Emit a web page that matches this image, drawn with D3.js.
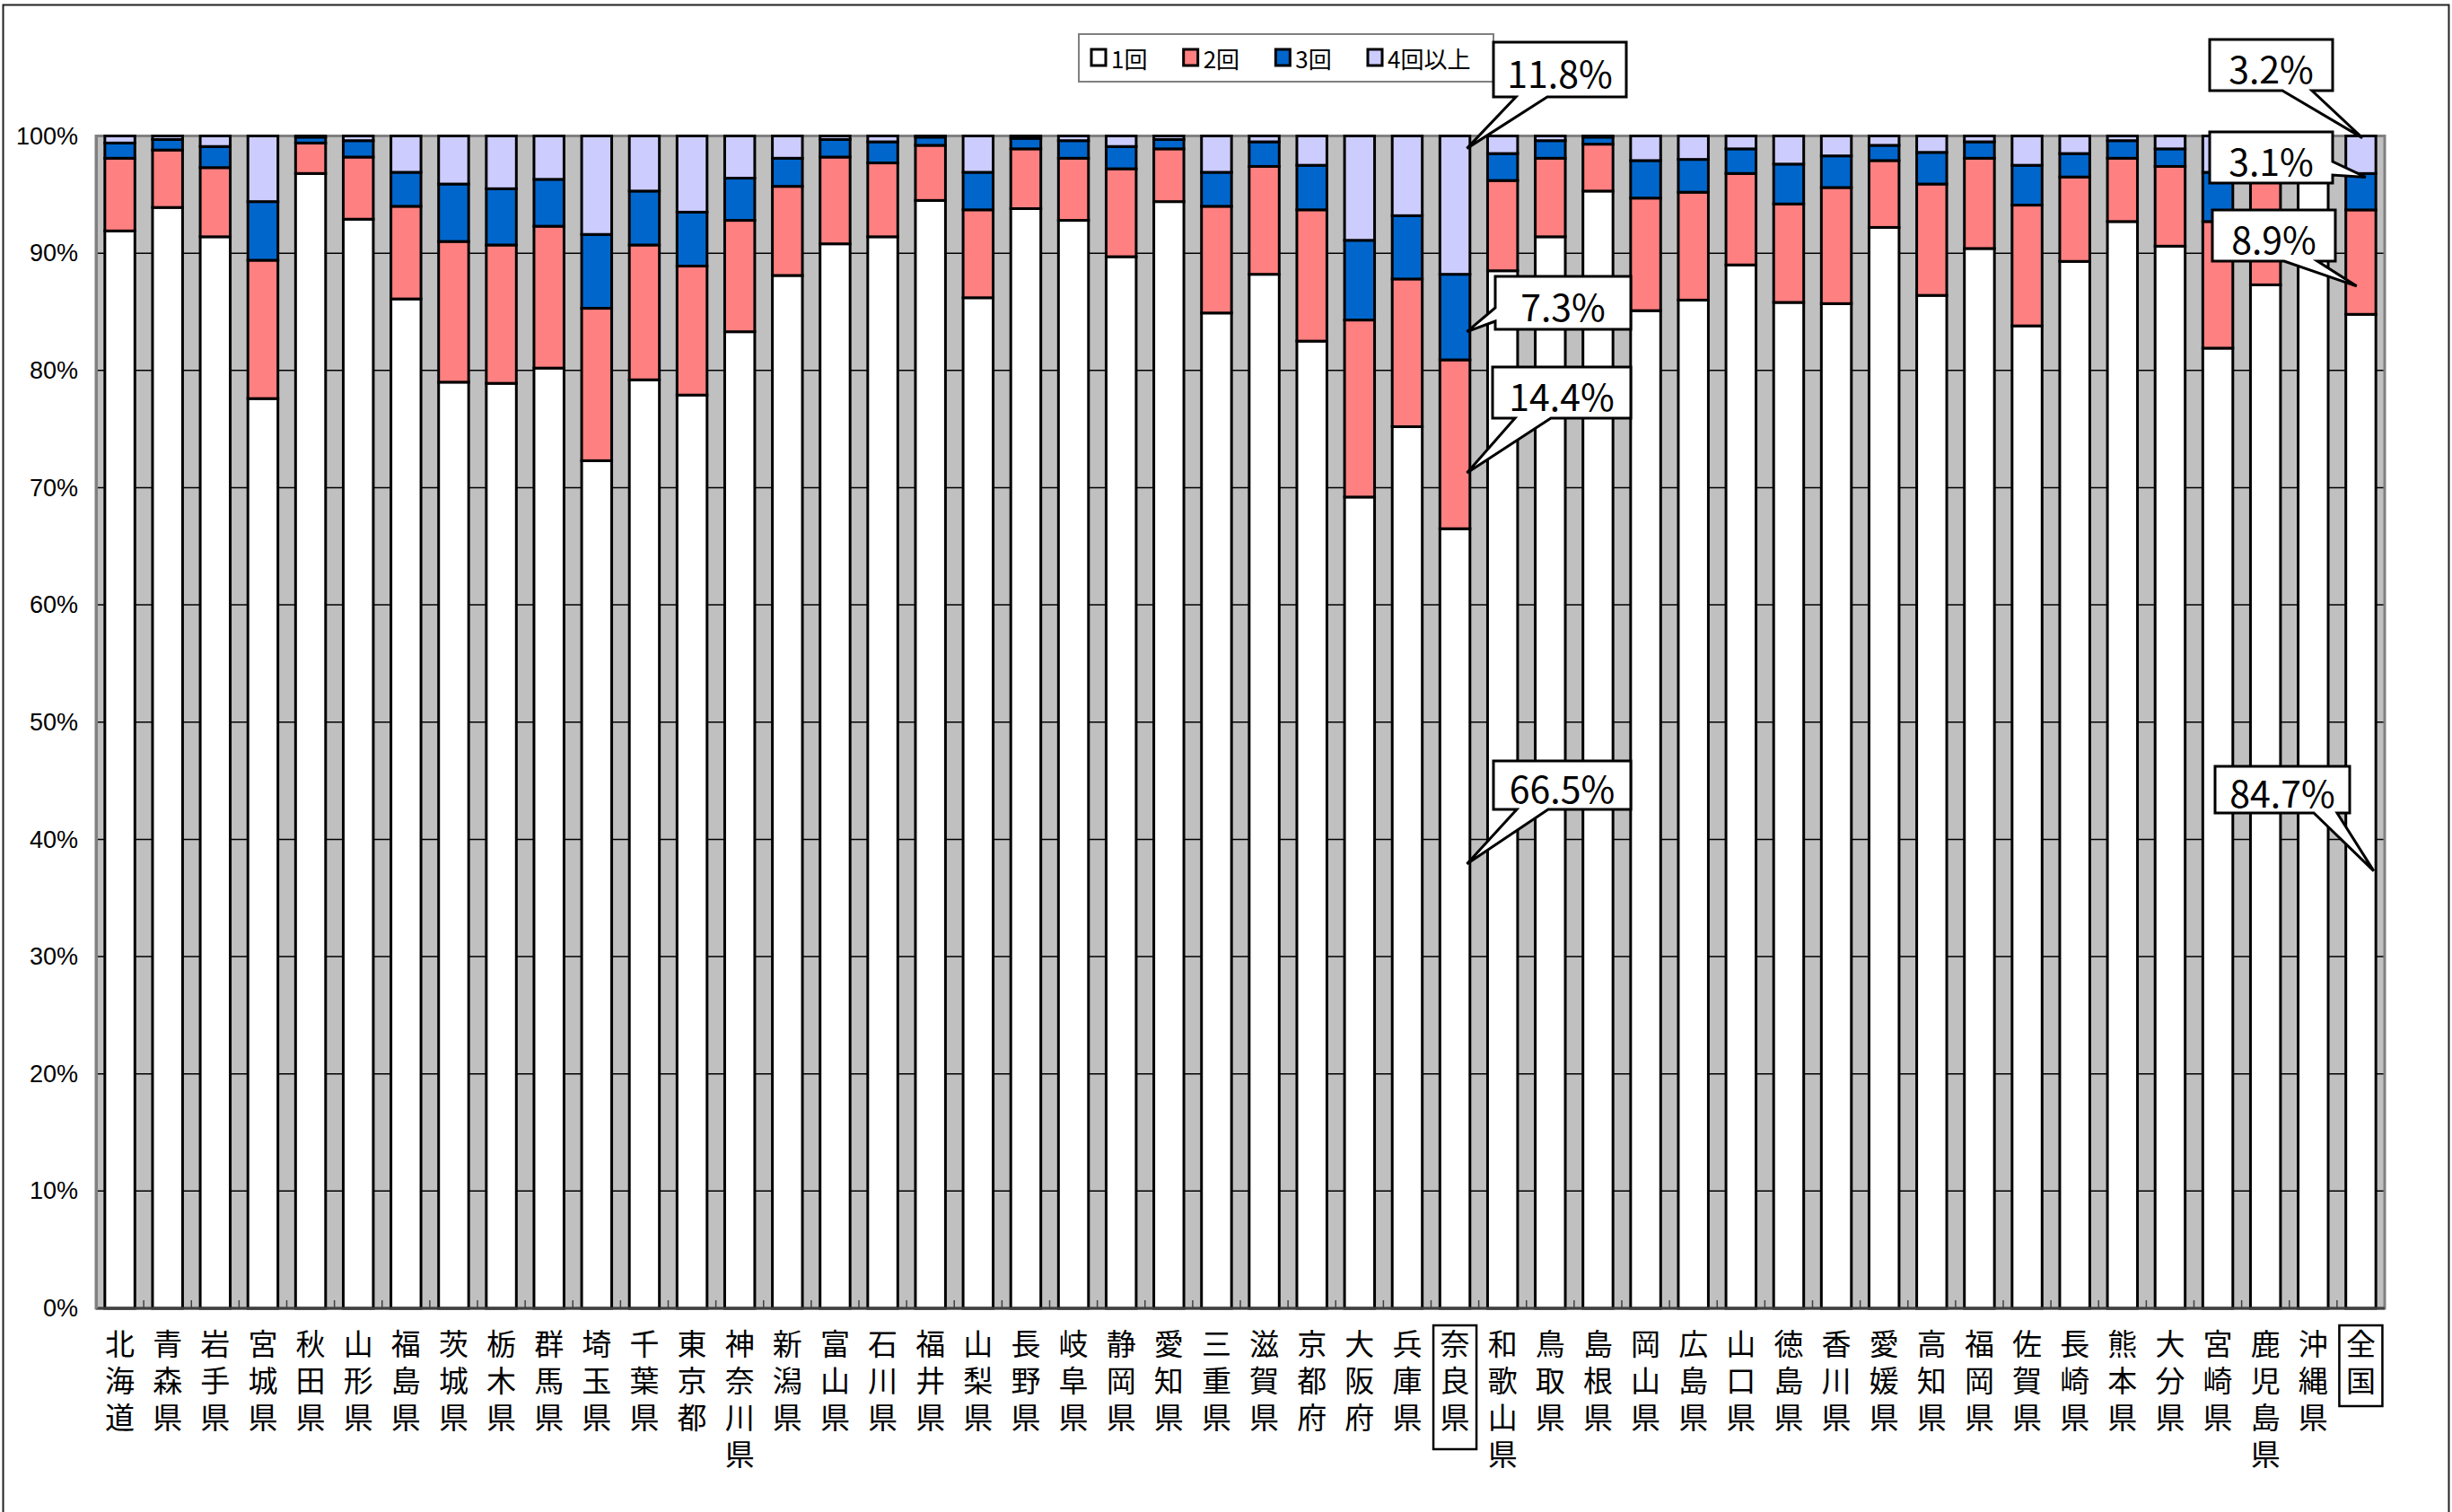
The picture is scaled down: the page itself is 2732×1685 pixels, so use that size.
<!DOCTYPE html>
<html lang="ja">
<head>
<meta charset="UTF-8">
<title>都道府県別 回数構成比</title>
<script src="https://d3js.org/d3.v7.min.js"></script>
<style>
  body { margin: 0; background: #fff; }
  svg text { fill: #000; }
  .vchar { writing-mode: vertical-rl; text-orientation: upright; }
</style>
</head>
<body>
<div id="chart"></div>
<script>
// categories (x axis)
const categories = ["北海道","青森県","岩手県","宮城県","秋田県","山形県","福島県","茨城県","栃木県","群馬県",
  "埼玉県","千葉県","東京都","神奈川県","新潟県","富山県","石川県","福井県","山梨県","長野県",
  "岐阜県","静岡県","愛知県","三重県","滋賀県","京都府","大阪府","兵庫県","奈良県","和歌山県",
  "鳥取県","島根県","岡山県","広島県","山口県","徳島県","香川県","愛媛県","高知県","福岡県",
  "佐賀県","長崎県","熊本県","大分県","宮崎県","鹿児島県","沖縄県","全国"];

const seriesNames = ["1回", "2回", "3回", "4回以上"];

// percent values per series
const once = [91.9,93.9,91.4,77.6,96.8,92.9,86.1,79.0,78.9,80.2,
  72.3,79.2,77.9,83.3,88.1,90.8,91.4,94.5,86.2,93.8,
  92.8,89.7,94.4,84.9,88.2,82.5,69.2,75.2,66.5,88.5,
  91.4,95.3,85.1,86.0,89.0,85.8,85.7,92.2,86.4,90.4,
  83.8,89.3,92.7,90.6,81.9,87.3,96.5,84.7];
const twice = [6.2,4.9,5.9,11.8,2.6,5.3,7.9,12.0,11.8,12.1,
  13.0,11.5,11.0,9.5,7.6,7.4,6.3,4.7,7.5,5.1,
  5.3,7.5,4.5,9.1,9.2,11.2,15.1,12.6,14.4,7.7,
  6.7,4.0,9.6,9.2,7.8,8.4,9.9,5.7,9.5,7.7,
  10.3,7.2,5.4,6.8,10.8,9.5,2.8,8.9];
const thrice = [1.3,0.9,1.8,5.0,0.5,1.4,2.9,4.9,4.8,4.0,
  6.3,4.6,4.6,3.6,2.4,1.5,1.8,0.7,3.2,0.9,
  1.5,1.9,0.8,2.9,2.1,3.8,6.8,5.4,7.3,2.3,
  1.5,0.6,3.2,2.8,2.1,3.4,2.7,1.3,2.7,1.4,
  3.4,2.0,1.5,1.5,4.2,2.0,0.5,3.1];
const fourPlus = [0.6,0.3,0.9,5.6,0.1,0.4,3.1,4.1,4.5,3.7,
  8.4,4.7,6.5,3.6,1.9,0.3,0.5,0.1,3.1,0.2,
  0.4,0.9,0.3,3.1,0.5,2.5,8.9,6.8,11.8,1.5,
  0.4,0.1,2.1,2.0,1.1,2.4,1.7,0.8,1.4,0.5,
  2.5,1.5,0.4,1.1,3.1,1.2,0.2,3.2];

const yTicks = [0,10,20,30,40,50,60,70,80,90,100];
const boxedCategories = ["奈良県", "全国"];

// callouts: segment, box placement and wedge
const callouts = [
  {cat:"奈良県", key:"4回以上", bx:1664, by:47,  w:148, h:61, side:"bottom", b0:1689, b1:1724, fx:0.9,  fy:0.91},
  {cat:"奈良県", key:"3回",     bx:1666, by:308, w:151, h:59, side:"left",   b0:343,  b1:358,  fx:0.9,  fy:0.33},
  {cat:"奈良県", key:"2回",     bx:1663, by:409, w:154, h:57, side:"bottom", b0:1688, b1:1728, fx:0.9,  fy:0.33},
  {cat:"奈良県", key:"1回",     bx:1664, by:848, w:153, h:54, side:"bottom", b0:1690, b1:1725, fx:0.9,  fy:0.57},
  {cat:"全国",   key:"4回以上", bx:2462, by:44,  w:137, h:57, side:"bottom", b0:2543, b1:2576, fx:0.55, fy:0.95},
  {cat:"全国",   key:"3回",     bx:2462, by:147, w:137, h:57, side:"right",  b0:180,  b1:195,  fx:0.66, fy:0.9},
  {cat:"全国",   key:"2回",     bx:2465, by:234, w:137, h:57, side:"bottom", b0:2545, b1:2582, fx:0.36, fy:0.27},
  {cat:"全国",   key:"1回",     bx:2468, by:854, w:150, h:52, side:"bottom", b0:2578, b1:2604, fx:0.93, fy:0.44}
];

const colors = {"1回":"#FFFFFF", "2回":"#FF8080", "3回":"#0066CC", "4回以上":"#CCCCFF"};

const W = 2732, H = 1685;
const plot = {left:107, right:2657, top:151.5, bottom:1458};

const rows = categories.map((c, i) => ({
  cat: c, "1回": once[i], "2回": twice[i], "3回": thrice[i], "4回以上": fourPlus[i]
}));

const stack = d3.stack().keys(seriesNames).offset(d3.stackOffsetExpand);
const layers = stack(rows);

const x = d3.scaleBand().domain(categories)
  .range([plot.left, plot.right]).paddingInner(0.37).paddingOuter(0.185);
const y = d3.scaleLinear().domain([0, 1]).range([plot.bottom, plot.top]);

const svg = d3.select("#chart").append("svg")
  .attr("width", W).attr("height", H);

// outer frame (cut off at the bottom like the reference)
svg.append("rect")
  .attr("x", 3.5).attr("y", 5.5).attr("width", W - 7).attr("height", H + 20)
  .attr("fill", "#fff").attr("stroke", "#222").attr("stroke-width", 2);

// plot area
svg.append("rect")
  .attr("x", plot.left).attr("y", plot.top)
  .attr("width", plot.right - plot.left).attr("height", plot.bottom - plot.top)
  .attr("fill", "#C0C0C0");

// gridlines
svg.append("g").selectAll("line")
  .data(yTicks.filter(t => t > 0 && t < 100))
  .join("line")
  .attr("x1", plot.left).attr("x2", plot.right)
  .attr("y1", d => y(d / 100)).attr("y2", d => y(d / 100))
  .attr("stroke", "#000").attr("stroke-width", 1.5);

// plot border
svg.append("rect")
  .attr("x", plot.left).attr("y", plot.top)
  .attr("width", plot.right - plot.left).attr("height", plot.bottom - plot.top)
  .attr("fill", "none").attr("stroke", "#808080").attr("stroke-width", 3);

// stacked bars
svg.append("g").selectAll("g")
  .data(layers)
  .join("g")
  .attr("fill", d => colors[d.key])
  .selectAll("rect")
  .data(d => d)
  .join("rect")
  .attr("x", d => x(d.data.cat))
  .attr("width", x.bandwidth())
  .attr("y", d => y(d[1]))
  .attr("height", d => y(d[0]) - y(d[1]))
  .attr("stroke", "#000")
  .attr("stroke-width", 3);

// x axis line and inward ticks at category boundaries
svg.append("line")
  .attr("x1", plot.left).attr("x2", plot.right)
  .attr("y1", plot.bottom).attr("y2", plot.bottom)
  .attr("stroke", "#404040").attr("stroke-width", 3);
svg.append("g").selectAll("line")
  .data(categories.slice(1))
  .join("line")
  .attr("x1", d => x(d) - x.step() * x.paddingInner() / 2)
  .attr("x2", d => x(d) - x.step() * x.paddingInner() / 2)
  .attr("y1", plot.bottom - 9).attr("y2", plot.bottom)
  .attr("stroke", "#404040").attr("stroke-width", 1.5);

// y axis
const yAxis = svg.append("g")
  .attr("transform", `translate(${plot.left},0)`)
  .call(d3.axisLeft(y).tickValues(yTicks.map(t => t / 100))
    .tickFormat(d3.format(".0%")).tickSize(0).tickPadding(20));
yAxis.select(".domain").attr("stroke", "#808080").attr("stroke-width", 3);
yAxis.selectAll("text")
  .attr("font-family", "'Liberation Sans', Arial, sans-serif")
  .attr("font-size", 27)
  .attr("fill", "#000");

// x labels: one character per line, each character its own text
const fontSize = 33, lineGap = 41, labelTop = 1481;
svg.append("g")
  .attr("font-family", "'Noto Sans CJK JP', sans-serif")
  .attr("font-size", fontSize)
  .selectAll("g")
  .data(categories)
  .join("g")
  .selectAll("text")
  .data(d => Array.from(d).map((ch, i) => ({ch, i, cat: d})))
  .join("text")
  .attr("class", "vchar")
  .attr("x", d => x(d.cat) + x.bandwidth() / 2)
  .attr("y", d => labelTop + d.i * lineGap)
  .text(d => d.ch);

// boxes around highlighted labels
svg.append("g").selectAll("rect")
  .data(boxedCategories)
  .join("rect")
  .attr("x", d => x(d) + x.bandwidth() / 2 - 24)
  .attr("y", 1477)
  .attr("width", 48)
  .attr("height", d => (Array.from(d).length - 1) * lineGap + 21 + 28 + (d === "奈良県" ? 7 : 0))
  .attr("fill", "none").attr("stroke", "#000").attr("stroke-width", 2.5);

// legend
const legend = svg.append("g");
legend.append("rect")
  .attr("x", 1202).attr("y", 38).attr("width", 462).attr("height", 53)
  .attr("fill", "#fff").attr("stroke", "#808080").attr("stroke-width", 2);
const legendX = d3.scalePoint().domain(seriesNames).range([1216, 1524]);
const li = legend.selectAll("g.item")
  .data(seriesNames)
  .join("g")
  .attr("class", "item")
  .attr("transform", d => `translate(${legendX(d)},64)`);
li.append("rect")
  .attr("x", 0).attr("y", -9).attr("width", 16).attr("height", 18)
  .attr("fill", d => colors[d]).attr("stroke", "#000").attr("stroke-width", 3);
li.append("text")
  .attr("x", 22).attr("dominant-baseline", "central")
  .attr("font-family", "'Noto Sans CJK JP', sans-serif")
  .attr("font-size", 26)
  .text(d => d);

// callouts
function calloutPath(c, tx, ty) {
  const {bx, by, w, h, side, b0, b1} = c;
  let p;
  if (side === "bottom") {
    p = [[bx,by],[bx+w,by],[bx+w,by+h],[b1,by+h],[tx,ty],[b0,by+h],[bx,by+h]];
  } else if (side === "left") {
    p = [[bx,by],[bx+w,by],[bx+w,by+h],[bx,by+h],[bx,b1],[tx,ty],[bx,b0]];
  } else {
    p = [[bx,by],[bx+w,by],[bx+w,b0],[tx,ty],[bx+w,b1],[bx+w,by+h],[bx,by+h]];
  }
  return "M" + p.map(q => q.join(",")).join("L") + "Z";
}

const fmt = d3.format(".1f");
const cg = svg.append("g");
callouts.forEach(c => {
  const layer = layers.find(l => l.key === c.key);
  const idx = categories.indexOf(c.cat);
  const seg = layer[idx];
  const tx = x(c.cat) + c.fx * x.bandwidth();
  const ty = y(seg[0] + c.fy * (seg[1] - seg[0]));
  const value = rows[idx][c.key];
  cg.append("path")
    .attr("d", calloutPath(c, tx, ty))
    .attr("fill", "#fff").attr("stroke", "#000").attr("stroke-width", 3)
    .attr("stroke-linejoin", "miter");
  cg.append("text")
    .attr("x", c.bx + c.w / 2).attr("y", c.by + c.h / 2 + 2)
    .attr("text-anchor", "middle").attr("dominant-baseline", "central")
    .attr("font-family", "'Noto Sans CJK JP', sans-serif")
    .attr("font-size", 41)
    .text(fmt(value) + "%");
});
</script>
</body>
</html>
